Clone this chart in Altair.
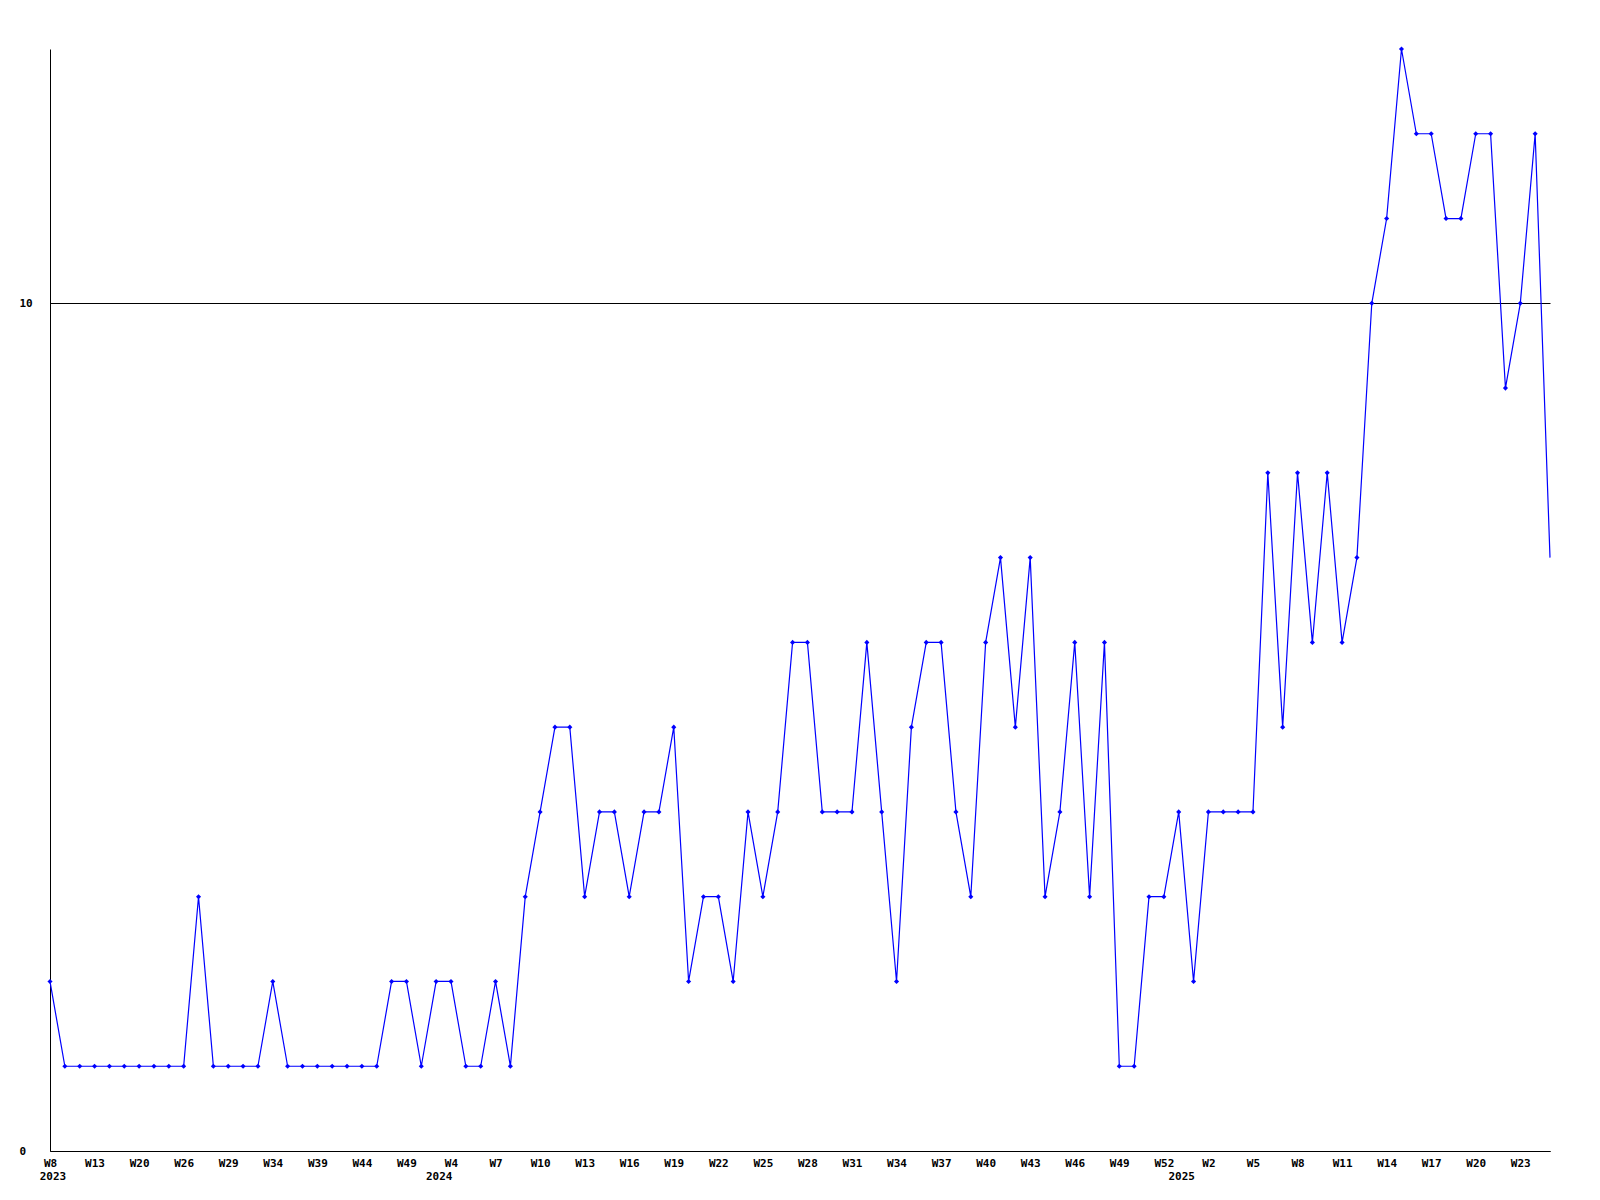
import altair as alt
import pandas as pd

# ---- data ----
weeks_2023 = [8, 10, 11, 13, 15, 18, 20, 22, 24, 26, 27, 28, 29, 31, 33, 34,
              36, 38, 39, 41, 43, 44, 46, 48, 49, 51]
weeks_2024 = list(range(3, 53))
weeks_2025 = list(range(0, 26))

values = [2, 1, 1, 1, 1, 1, 1, 1, 1, 1,
          3, 1, 1, 1, 1, 2, 1, 1, 1, 1,
          1, 1, 1, 2, 2, 1, 2, 2, 1, 1,
          2, 1, 3, 4, 5, 5, 3, 4, 4, 3,
          4, 4, 5, 2, 3, 3, 2, 4, 3, 4,
          6, 6, 4, 4, 4, 6, 4, 2, 5, 6,
          6, 4, 3, 6, 7, 5, 7, 3, 4, 6,
          3, 6, 1, 1, 3, 3, 4, 2, 4, 4,
          4, 4, 8, 5, 8, 6, 8, 6, 7, 10,
          11, 13, 12, 12, 11, 11, 12, 12, 9, 10,
          12, 7]

y_ticks = [0, 10]

years = [2023] * len(weeks_2023) + [2024] * len(weeks_2024) + [2025] * len(weeks_2025)
weeks = weeks_2023 + weeks_2024 + weeks_2025
keys = [f"W{w} {y}" for w, y in zip(weeks, years)]

df = pd.DataFrame({"key": keys, "value": values, "idx": list(range(len(keys)))})

first_keys, first_years = [], []
for k, y in zip(keys, years):
    if y not in first_years:
        first_years.append(y)
        first_keys.append(k)
df_years = pd.DataFrame({"key": first_keys, "year": [str(y) for y in first_years]})

W, H = 1500, 1102
FONT = "DejaVu Sans Mono"
BLUE = "#0000ff"

xscale = alt.Scale(type="point", padding=0, domain=keys)
x_axis = alt.Axis(
    values=keys[::3], labelExpr="split(datum.value, ' ')[0]", title=None,
    ticks=False, tickSize=0, grid=False, domainColor="black", domainWidth=1,
    labelFont=FONT, labelFontSize=11, labelFontWeight="bold", labelColor="black",
    labelBaseline="top", labelPadding=6, labelAngle=0, labelFlush=False,
    labelOverlap=False,
)
y_axis = alt.Axis(
    values=y_ticks, title=None, ticks=False, tickSize=0, grid=True,
    gridColor="black", gridOpacity=1, gridWidth=1, domainColor="black",
    domainWidth=1, labelFont=FONT, labelFontSize=11, labelFontWeight="bold",
    labelColor="black", labelAlign="left", labelBaseline="middle",
    labelPadding=31, labelFlush=False,
)

x_enc = alt.X("key:O", scale=xscale, axis=x_axis, sort=keys)
y_enc = alt.Y("value:Q", scale=alt.Scale(domain=[0, 13], nice=False, zero=True), axis=y_axis)

line = alt.Chart(df).mark_line(color=BLUE, strokeWidth=1.2, interpolate="linear").encode(
    x=x_enc, y=y_enc
)
points = alt.Chart(df).transform_filter(f"datum.idx < {len(keys) - 1}").mark_point(
    shape="diamond", filled=True, size=26, color=BLUE, opacity=1
).encode(x=x_enc, y=y_enc)

year_text = alt.Chart(df_years).mark_text(
    font=FONT, fontSize=11, fontWeight="bold", color="black",
    align="center", baseline="top", dx=3
).encode(
    x=alt.X("key:O", scale=xscale, sort=keys),
    y=alt.value(H + 20),
    text="year:N",
)

chart = alt.layer(line, points, year_text).properties(
    width=W, height=H,
    autosize=alt.AutoSizeParams(type="none"),
    padding={"left": 42, "top": 41, "right": 40, "bottom": 40},
).configure(background="white").configure_view(stroke=None)

chart.save("out.html", embed_options={"renderer": "svg", "actions": False})
